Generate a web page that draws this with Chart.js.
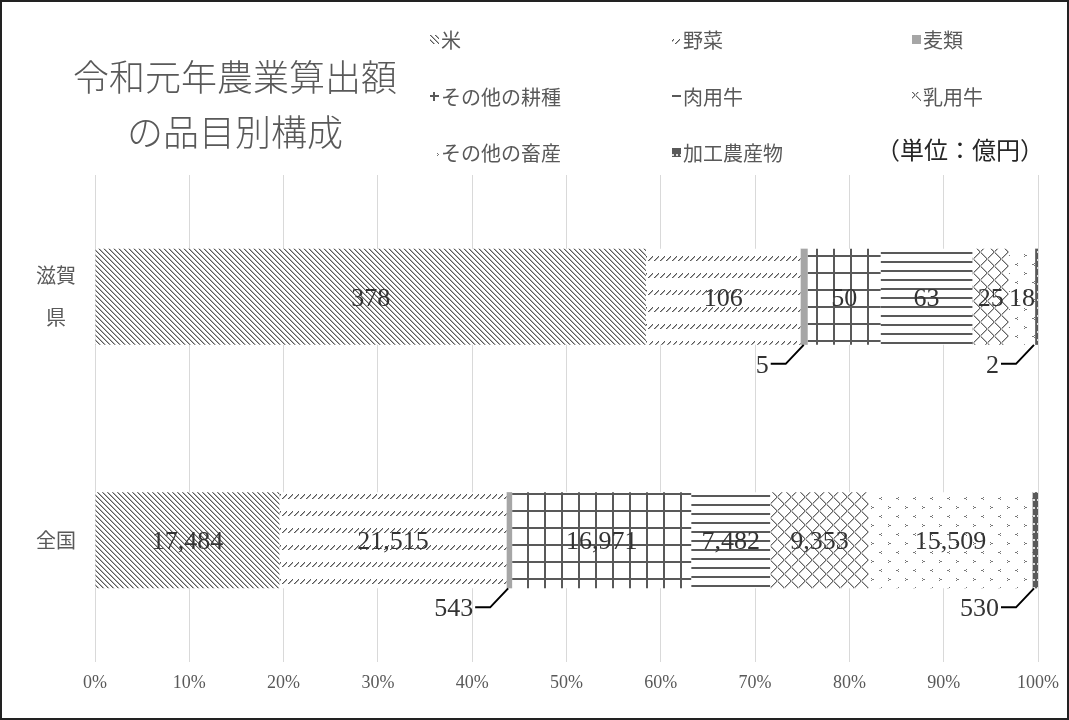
<!DOCTYPE html>
<html>
<head>
<meta charset="utf-8">
<script src="https://cdn.jsdelivr.net/npm/chart.js@4.4.1/dist/chart.umd.min.js"></script>
<style>
  body { margin: 0; background: #fff; }
  #wrap { width: 1069px; height: 720px; }
</style>
</head>
<body>
<div id="wrap"><canvas id="chart" width="1069" height="720"></canvas></div>
<script>
// data
var categories = ['滋賀県', '全国'];
var seriesNames = ['米', '野菜', '麦類', 'その他の耕種', '肉用牛', '乳用牛', 'その他の畜産', '加工農産物'];
var shigaValues = [378, 106, 5, 50, 63, 25, 18, 2];
var zenkokuValues = [17484, 21515, 543, 16971, 7482, 9353, 15509, 530];
var xTickValues = [0, 10, 20, 30, 40, 50, 60, 70, 80, 90, 100];
var chartTitle = ['令和元年農業算出額', 'の品目別構成'];
var unitText = '（単位：億円）';

var serif = "'Liberation Serif', 'Noto Sans CJK JP', serif";
var jp = "'Noto Sans CJK JP', sans-serif";
var DARK = '#595959';

function makePattern(w, h, draw) {
    var c = document.createElement('canvas');
    c.width = w; c.height = h;
    var g = c.getContext('2d');
    g.fillStyle = '#fff';
    g.fillRect(0, 0, w, h);
    draw(g, w, h);
    return g.createPattern(c, 'repeat');
}

var patterns = [
    // 米 : dense "\" stripes
    makePattern(5, 5, function(g){
        for (var i = 0; i < 5; i++) {
            g.fillStyle = '#5a5a5a'; g.fillRect(i, i, 1, 1);
            g.fillStyle = '#b0b0b0'; g.fillRect((i + 1) % 5, i, 1, 1);
        }
    }),
    // 野菜 : rows of short "/" dashes
    makePattern(6, 17, function(g){
        g.fillStyle = '#555';
        g.fillRect(0, 5, 1, 1); g.fillRect(1, 4, 1, 1); g.fillRect(2, 3, 1, 1); g.fillRect(3, 2, 1, 1); g.fillRect(4, 1, 1, 1);
        g.fillStyle = '#aaa';
        g.fillRect(1, 5, 1, 1); g.fillRect(2, 4, 1, 1); g.fillRect(3, 3, 1, 1); g.fillRect(4, 2, 1, 1);
    }),
    // 麦類 : solid gray
    '#a6a6a6',
    // その他の耕種 : thick grid
    makePattern(17, 17, function(g){
        g.fillStyle = DARK;
        g.fillRect(0, 0, 17, 2);
        g.fillRect(0, 0, 2, 17);
    }),
    // 肉用牛 : horizontal lines
    makePattern(4, 9, function(g){
        g.fillStyle = DARK;
        g.fillRect(0, 0, 4, 2);
    }),
    // 乳用牛 : diamond lattice
    makePattern(14, 14, function(g){
        for (var i = 0; i < 14; i++) {
            g.fillStyle = '#666';
            g.fillRect(i, i, 1, 1);
            g.fillRect(13 - i, i, 1, 1);
            g.fillStyle = '#bbb';
            g.fillRect((i + 1) % 14, i, 1, 1);
            g.fillRect((14 - i) % 14, i, 1, 1);
        }
    }),
    // その他の畜産 : sparse < > marks
    makePattern(17, 18, function(g){
        g.fillStyle = '#777';
        g.fillRect(4, 2, 1, 1); g.fillRect(5, 3, 2, 1); g.fillRect(4, 4, 1, 1);
        g.fillRect(14, 11, 1, 1); g.fillRect(12, 12, 2, 1); g.fillRect(14, 13, 1, 1);
    }),
    // 加工農産物 : dark with light dots
    makePattern(4, 8, function(g){
        g.fillStyle = DARK;
        g.fillRect(0, 0, 4, 8);
        g.fillStyle = '#ddd';
        g.fillRect(1, 3, 2, 2);
    })
];

var rows = [shigaValues, zenkokuValues];
var totals = rows.map(function(r){ return r.reduce(function(a, b){ return a + b; }, 0); });

var datasets = seriesNames.map(function(name, i){
    return {
        label: name,
        data: rows.map(function(r, k){ return r[i] / totals[k] * 100; }),
        raw: rows.map(function(r){ return r[i]; }),
        backgroundColor: patterns[i],
        borderWidth: 0,
        categoryPercentage: 1,
        barPercentage: 0.395
    };
});

function fmt(v) { return v.toLocaleString('en-US'); }

var decorPlugin = {
    id: 'decor',
    afterDatasetsDraw: function(chart){
        var ctx = chart.ctx;
        ctx.save();
        chart.data.datasets.forEach(function(ds, di){
            var meta = chart.getDatasetMeta(di);
            meta.data.forEach(function(bar, k){
                var txt = fmt(ds.raw[k]);
                var w = Math.abs(bar.x - bar.base);
                ctx.font = '26px ' + serif;
                ctx.fillStyle = '#333';
                if (w > 15) {
                    ctx.textAlign = 'center';
                    ctx.textBaseline = 'middle';
                    ctx.fillText(txt, (bar.x + bar.base) / 2, bar.y + 2);
                } else {
                    var bottom = bar.y + bar.height / 2;
                    var sx = bar.x - 4;
                    ctx.strokeStyle = '#000';
                    ctx.lineWidth = 2;
                    ctx.beginPath();
                    ctx.moveTo(sx, bottom);
                    ctx.lineTo(sx - 18, bottom + 19);
                    ctx.lineTo(sx - 33, bottom + 19);
                    ctx.stroke();
                    ctx.textAlign = 'right';
                    ctx.textBaseline = 'middle';
                    ctx.fillText(txt, sx - 35, bottom + 21);
                }
            });
        });
        ctx.restore();
    },
    afterDraw: function(chart){
        var ctx = chart.ctx;
        ctx.save();
        // title
        ctx.fillStyle = DARK;
        ctx.font = '300 36px ' + jp;
        ctx.textAlign = 'center';
        ctx.textBaseline = 'middle';
        ctx.fillText(chartTitle[0], 235, 77);
        ctx.fillText(chartTitle[1], 235, 132);
        // legend
        var colX = [430, 672, 912];
        var rowY = [40, 97, 153];
        ctx.font = '20px ' + jp;
        ctx.textAlign = 'left';
        chart.data.datasets.forEach(function(ds, i){
            var x = colX[i % 3], y = rowY[Math.floor(i / 3)];
            ctx.save();
            ctx.translate(x + 3, y - 2);
            ctx.fillStyle = ds.backgroundColor;
            ctx.fillRect(-3, -3, 9, 9);
            ctx.restore();
            ctx.fillStyle = DARK;
            ctx.fillText(ds.label, x + 11, y);
        });
        // unit
        ctx.fillStyle = '#262626';
        ctx.font = '24px ' + jp;
        ctx.textAlign = 'right';
        ctx.fillText(unitText, 1044, 150);
        // frame
        ctx.strokeStyle = '#222';
        ctx.lineWidth = 2;
        ctx.strokeRect(1, 1, 1067, 718);
        ctx.restore();
    }
};

var barCanvas = document.getElementById('chart');
var barChart = new Chart(barCanvas, {
    type: 'bar',
    data: {
        labels: categories.map(function(c){ return c.length > 2 ? [c.slice(0, 2), c.slice(2)] : c; }),
        datasets: datasets
    },
    options: {
        indexAxis: 'y',
        responsive: false,
        animation: false,
        devicePixelRatio: 1,
        layout: { padding: { top: 175, right: 31, left: 0, bottom: 0 } },
        plugins: {
            legend: { display: false },
            tooltip: { enabled: false }
        },
        scales: {
            x: {
                stacked: true,
                min: 0,
                max: 100,
                grid: { color: '#d9d9d9', drawTicks: false },
                border: { display: false },
                afterBuildTicks: function(s){ s.ticks = xTickValues.map(function(v){ return { value: v }; }); },
                ticks: {
                    color: DARK,
                    padding: 10,
                    font: { family: serif, size: 18 },
                    callback: function(v){ return v + '%'; }
                },
                afterFit: function(s){ s.height = 58; }
            },
            y: {
                stacked: true,
                grid: { display: false },
                border: { display: false },
                ticks: {
                    color: DARK,
                    padding: 11,
                    crossAlign: 'center',
                    font: { family: jp, size: 20, lineHeight: 2.1 }
                },
                afterFit: function(s){ s.width = 95; }
            }
        }
    },
    plugins: [decorPlugin]
});
</script>
</body>
</html>
